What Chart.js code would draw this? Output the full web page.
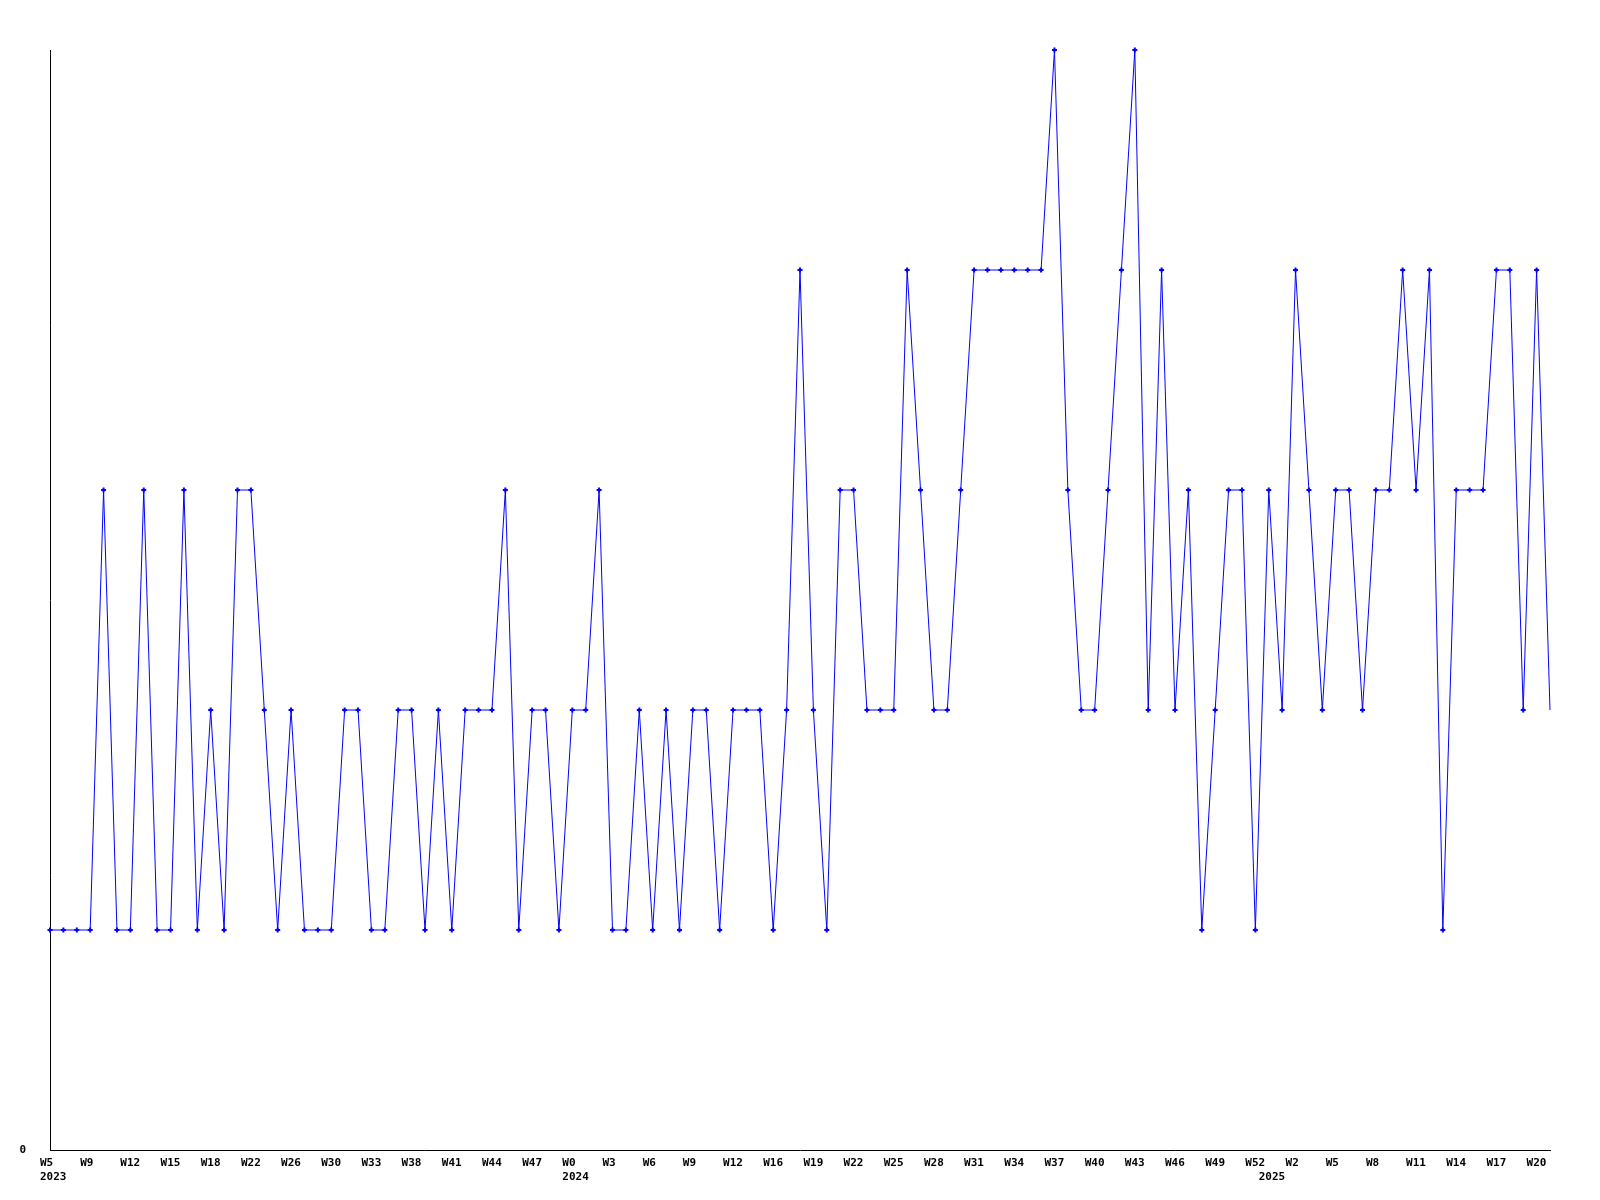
<!DOCTYPE html>
<html>
<head>
<meta charset="utf-8">
<script src="https://cdn.jsdelivr.net/npm/chart.js@4"></script>
<style>
  html, body { margin: 0; padding: 0; background: #fff; }
  #chart { display: block; }
</style>
</head>
<body>
<canvas id="chart" width="1600" height="1200"></canvas>
<script>
// week numbers per year, as printed on the axis
const years = ["2023", "2024", "2025"];
const weeks2023 = [5, 6, 8, 9, 10, 11, 12, 13, 14, 15, 16, 17, 18, 19, 21, 22, 23, 25, 26, 27,
  29, 30, 31, 32, 33, 35, 37, 38, 39, 40, 41, 42, 43, 44, 45, 46, 47, 49, 51];
const weeks2024 = [0, 1, 2, 3, 4, 5, 6, 7, 8, 9, 10, 11, 12, 14, 15, 16, 17, 18, 19, 20,
  21, 22, 23, 24, 25, 26, 27, 28, 29, 30, 31, 32, 33, 34, 35, 36, 37, 38, 39, 40,
  41, 42, 43, 44, 45, 46, 47, 48, 49, 50, 51, 52];
const weeks2025 = [0, 1, 2, 3, 4, 5, 6, 7, 8, 9, 10, 11, 12, 13, 14, 15, 16, 17, 18, 19, 20, 21];

const counts = [
  1, 1, 1, 1, 3, 1, 1, 3, 1, 1, 3, 1, 2, 1, 3, 3, 2, 1, 2, 1, 1, 1, 2, 2,
  1, 1, 2, 2, 1, 2, 1, 2, 2, 2, 3, 1, 2, 2, 1, 2, 2, 3, 1, 1, 2, 1, 2,
  1, 2, 2, 1, 2, 2, 2, 1, 2, 4, 2, 1, 3, 3, 2, 2, 2, 4, 3, 2, 2, 3, 4,
  4, 4, 4, 4, 4, 5, 3, 2, 2, 3, 4, 5, 2, 4, 2, 3, 1, 2, 3, 3, 1, 3, 2,
  4, 3, 2, 3, 3, 2, 3, 3, 4, 3, 4, 1, 3, 3, 3, 4, 4, 2, 4, 2
];

const labels = [];
const yearStart = {};
[weeks2023, weeks2024, weeks2025].forEach((wk, y) => {
  yearStart[labels.length] = years[y];
  wk.forEach(w => labels.push("W" + w));
});

const axisFont = { family: "'DejaVu Sans Mono', monospace", size: 11, weight: "bold", lineHeight: 1.3 };

new Chart("chart", {
  type: "line",
  data: {
    labels: labels,
    datasets: [{
      data: counts,
      borderColor: "#0000ff",
      backgroundColor: "#0000ff",
      borderWidth: 1,
      tension: 0,
      pointStyle: "cross",
      pointRadius: (ctx) => ctx.dataIndex === counts.length - 1 ? 0 : 2.5,
      pointBorderWidth: 2,
      clip: false
    }]
  },
  options: {
    responsive: false,
    animation: false,
    devicePixelRatio: 1,
    layout: { autoPadding: false, padding: { top: 50, right: 50, bottom: 0, left: 0 } },
    plugins: { legend: { display: false }, tooltip: { enabled: false } },
    scales: {
      x: {
        type: "category",
        offset: false,
        grid: { display: false, drawTicks: false },
        border: { display: true, color: "#000", width: 1 },
        afterFit: (s) => { s.height = 50; },
        ticks: {
          autoSkip: false,
          maxRotation: 0,
          minRotation: 0,
          align: "start",
          labelOffset: -10,
          padding: 6,
          color: "#000",
          font: axisFont,
          callback: (v, i) => {
            const wk = i % 3 === 0 ? labels[i] : "";
            return yearStart[i] ? [wk, yearStart[i]] : wk;
          }
        }
      },
      y: {
        min: 0,
        max: 5,
        grid: { display: false, drawTicks: false },
        border: { display: true, color: "#000", width: 1 },
        afterFit: (s) => { s.width = 50; },
        ticks: {
          stepSize: 5,
          padding: 24,
          color: "#000",
          font: { family: "'DejaVu Sans Mono', monospace", size: 11, weight: "bold" },
          callback: (v) => v === 0 ? "0" : null
        }
      }
    }
  }
});
</script>
</body>
</html>
